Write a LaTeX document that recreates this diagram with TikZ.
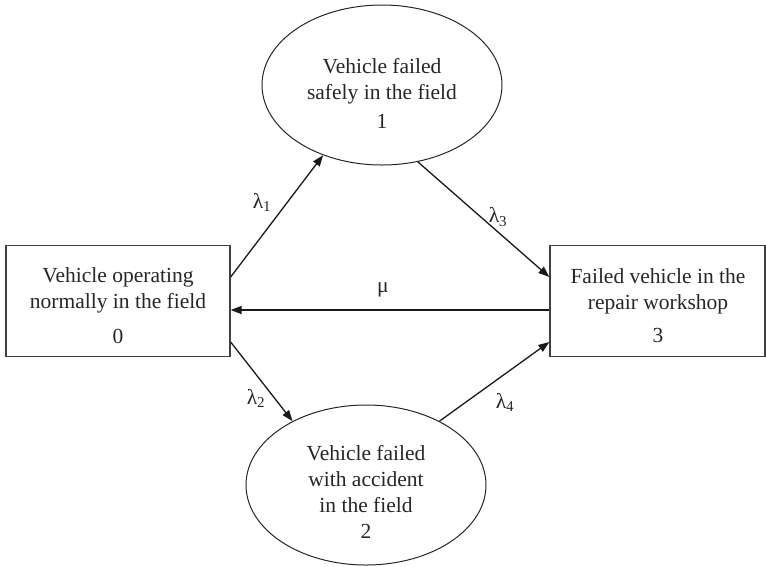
\documentclass[tikz,border=0pt]{standalone}
\usepackage{fontspec}
\setmainfont{Liberation Serif}
\usetikzlibrary{shapes.geometric,arrows.meta}
\begin{document}
\begin{tikzpicture}[x=1pt,y=-1pt,
  statebox/.style={draw=black!75,line width=1.3pt,minimum width=224pt,minimum height=111pt,inner sep=0pt},
  stateoval/.style={ellipse,draw=black!85,line width=1pt,minimum width=240pt,minimum height=160pt,inner sep=0pt},
  txt/.style={align=center,font=\fontsize{21.5}{26}\selectfont,text=black!85,inner sep=0pt},
  rate/.style={font=\fontsize{21.5}{26}\selectfont,text=black!85,inner sep=0pt},
  flow/.style={draw=black!90,line width=1.3pt,-{Triangle[length=11pt,width=8pt]}}]
\useasboundingbox (0,0) rectangle (766,566);

% states
\node[statebox] (b0) at (118,301) {};
\node[statebox,minimum width=215pt] (b3) at (657.5,301) {};
\node[stateoval] (e1) at (382,85) {};
\node[stateoval] (e2) at (366,485) {};

% state descriptions
\node[txt] (t0) at (118,306) {Vehicle operating\\normally in the field\\[9pt]0};
\node[txt] (t3) at (658,306) {Failed vehicle in the\\repair workshop\\[7pt]3};
\node[txt] (t1) at (382,93) {Vehicle failed\\safely in the field\\[3pt]1};
\node[txt] (t2) at (366,492) {Vehicle failed\\with accident\\in the field\\2};

% transitions
\draw[flow] ([yshift=24pt]b0.east) -- (e1.230);
\draw[flow] (e1.-65) -- ([yshift=24pt]b3.west);
\draw[flow] ([yshift=-9pt]b3.west) -- ([yshift=-9pt]b0.east);
\draw[flow] ([yshift=-41pt]b0.east) -- (e2.139);
\draw[flow] (e2.41) -- ([yshift=-41pt]b3.west);

% transition rates
\node[rate] (l1) at (262,202) {λ\textsubscript{1}};
\node[rate] (l3) at (498,217) {λ\textsubscript{3}};
\node[rate] (mu) at (383,290) {μ};
\node[rate] (l2) at (256,398) {λ\textsubscript{2}};
\node[rate] (l4) at (505,402) {λ\textsubscript{4}};
\end{tikzpicture}
\end{document}
